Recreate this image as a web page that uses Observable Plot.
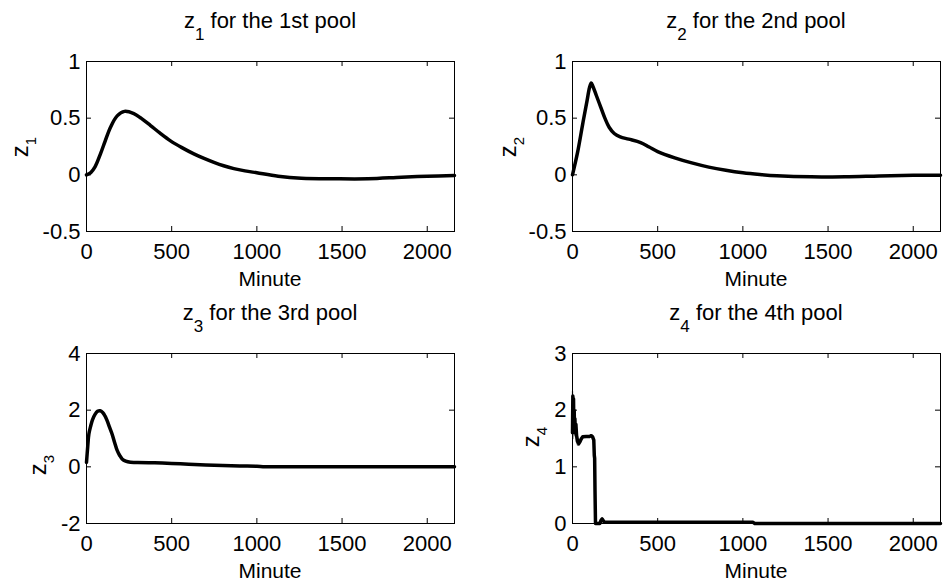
<!DOCTYPE html>
<html><head><meta charset="utf-8">
<script src="https://cdn.jsdelivr.net/npm/d3@7"></script>
<script src="https://cdn.jsdelivr.net/npm/@observablehq/plot@0.6"></script>
<style>
body{margin:0;background:#fff;}
#chart{position:relative;width:943px;height:586px;background:#fff;font-family:"Liberation Sans",Arial,Helvetica,sans-serif;}
#chart svg{position:absolute;overflow:visible;}
</style></head><body><div id="chart"></div>
<script>
// ---- data (minutes, value) ----
const xTicks = [0, 500, 1000, 1500, 2000];
const xDomain = [0, 2160];

const z1_t = [0,25,50,82,110,141,180,223,278,320,376,430,493,560,630,690,748,805,865,930,1000,1125,1261,1457,1653,1849,2000,2160];
const z1_v = [0,0.02,0.07,0.185,0.3,0.42,0.52,0.56,0.54,0.50,0.435,0.37,0.30,0.24,0.185,0.145,0.11,0.08,0.055,0.035,0.018,-0.012,-0.03,-0.035,-0.035,-0.021,-0.012,-0.006];
const z1_ticks = [-0.5, 0, 0.5, 1];

const z2_t = [0,30,60,85,100,110,120,140,165,190,215,245,280,330,400,450,500,600,700,800,900,1000,1100,1200,1400,1600,1800,2000,2160];
const z2_v = [0,0.2,0.45,0.65,0.77,0.81,0.78,0.7,0.6,0.5,0.42,0.365,0.335,0.315,0.285,0.245,0.205,0.15,0.105,0.068,0.04,0.018,0.003,-0.008,-0.018,-0.017,-0.01,-0.004,-0.003];
const z2_ticks = [-0.5, 0, 0.5, 1];

const z3_t = [0,7,14,25,35,50,65,80,95,110,121,135,150,165,180,195,209,230,258,300,400,500,600,700,800,900,1000,1050,1500,2160];
const z3_v = [0.16,0.7,1.16,1.45,1.66,1.85,1.96,1.98,1.92,1.78,1.63,1.4,1.16,0.86,0.58,0.4,0.28,0.2,0.16,0.155,0.14,0.12,0.09,0.065,0.045,0.03,0.02,0.005,0,0];
const z3_ticks = [-2, 0, 2, 4];

const z4_t = [0,2,4,6,8,10,12,14,17,20,24,30,37,45,51,60,80,100,110,118,125,128,130,132,135,160,168,174,180,188,1060,1070,2160];
const z4_v = [1.6,2.25,1.7,2.2,1.65,2.0,1.6,1.85,1.6,1.75,1.55,1.45,1.41,1.45,1.49,1.53,1.535,1.535,1.55,1.53,1.47,1.2,1.15,0.6,0,0,0.06,0.08,0.05,0.02,0.02,0,0];
const z4g_t = [0,3,6,10,15,22,30,37,45,60];
const z4g_v = [2.33,1.5,2.1,1.55,1.7,1.45,1.38,1.38,1.47,1.52];
const z4_ticks = [0, 1, 2, 3];

const titles = [
  ["z", "1", " for the 1st pool"],
  ["z", "2", " for the 2nd pool"],
  ["z", "3", " for the 3rd pool"],
  ["z", "4", " for the 4th pool"]
];

const panels = [
  {t:z1_t, v:z1_v, ticks:z1_ticks, left:0,   top:0,   w:471, h:293, m:[61,17,62,86],  ylab:[28,147]},
  {t:z2_t, v:z2_v, ticks:z2_ticks, left:471, top:0,   w:472, h:293, m:[61,3,62,101],  ylab:[45,147]},
  {t:z3_t, v:z3_v, ticks:z3_ticks, left:0,   top:293, w:471, h:293, m:[60,17,63,86],  ylab:[46,172]},
  {t:z4_t, v:z4_v, ticks:z4_ticks, left:471, top:293, w:472, h:293, m:[60,3,63,101],  ylab:[68,144], grey:true}
];

const FONT = '"Liberation Sans", Arial, Helvetica, sans-serif';
const chart = document.getElementById("chart");

panels.forEach((p, i) => {
  const [mt, mr, mb, ml] = p.m;
  const iw = p.w - ml - mr, ih = p.h - mt - mb;
  const data = p.t.map((t, k) => ({t, v: p.v[k]}));
  const marks = [
    Plot.ruleX(xTicks, {x: d => d, insetTop: ih - 5, stroke: "black", strokeWidth: 1}),
    Plot.ruleX(xTicks, {x: d => d, insetBottom: ih - 5, stroke: "black", strokeWidth: 1}),
    Plot.ruleY(p.ticks, {y: d => d, insetRight: iw - 5, stroke: "black", strokeWidth: 1}),
    Plot.ruleY(p.ticks, {y: d => d, insetLeft: iw - 5, stroke: "black", strokeWidth: 1}),
    Plot.axisX(xTicks, {tickSize: 0, tickPadding: 12, label: null, tickFormat: d => String(d), fontSize: 22}),
    Plot.axisY(p.ticks, {tickSize: 0, tickPadding: 6, label: null, tickFormat: d => String(d), fontSize: 22})
  ];
  if (p.grey) {
    const g = z4g_t.map((t, k) => ({t, v: z4g_v[k]}));
    marks.push(Plot.line(g, {x: "t", y: "v", stroke: "#999", strokeWidth: 1.5}));
  }
  marks.push(Plot.line(data, {x: "t", y: "v", stroke: "black", strokeWidth: 3.5,
    curve: p.grey ? "linear" : "catmull-rom", strokeLinejoin: "round"}));
  marks.push(Plot.frame({stroke: "black", strokeWidth: 1}));

  const el = Plot.plot({
    width: p.w, height: p.h,
    marginTop: mt, marginRight: mr, marginBottom: mb, marginLeft: ml,
    x: {domain: xDomain},
    y: {domain: [p.ticks[0], p.ticks[p.ticks.length - 1]]},
    style: {fontFamily: FONT, fontSize: "22px", color: "black", background: "transparent", overflow: "visible"},
    marks
  });
  el.style.left = p.left + "px";
  el.style.top = p.top + "px";
  chart.appendChild(el);

  const svg = d3.select(el);
  const cx = ml + iw / 2;
  // title
  const tt = svg.append("text").attr("x", cx).attr("y", mt - 33)
    .attr("text-anchor", "middle").attr("font-size", 22).attr("font-family", FONT).attr("fill", "black");
  tt.append("tspan").text(titles[i][0]);
  tt.append("tspan").attr("dy", 12).attr("font-size", 17).text(titles[i][1]);
  tt.append("tspan").attr("dy", -12).text(titles[i][2]);
  // x label
  svg.append("text").attr("x", cx).attr("y", p.h - mb + 55)
    .attr("text-anchor", "middle").attr("font-size", 21).attr("font-family", FONT).attr("fill", "black")
    .text("Minute");
  // y label
  const yl = svg.append("text")
    .attr("transform", `translate(${p.ylab[0]},${p.ylab[1]}) rotate(-90)`)
    .attr("text-anchor", "middle").attr("font-size", 24).attr("font-family", FONT).attr("fill", "black");
  yl.append("tspan").text("z");
  yl.append("tspan").attr("dy", 8).attr("font-size", 15).text(titles[i][1]);
});
</script>
</body></html>
